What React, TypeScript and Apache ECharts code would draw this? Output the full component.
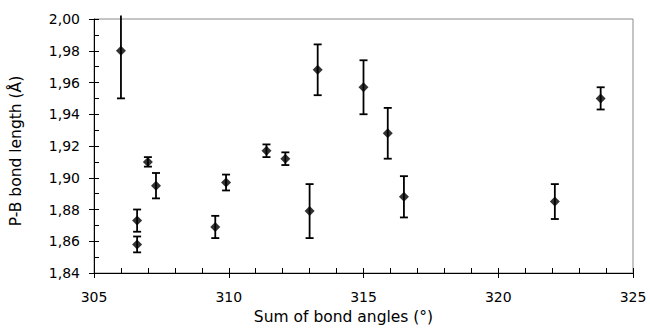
import React, { useEffect, useRef } from "react";
import * as echarts from "echarts";

const sumAngles = [306.0, 306.6, 306.6, 307.0, 307.3, 309.5, 309.9, 311.4, 312.1, 313.0, 313.3, 315.0, 315.9, 316.5, 322.1, 323.8];
const bondLength = [1.98, 1.873, 1.858, 1.91, 1.895, 1.869, 1.897, 1.917, 1.912, 1.879, 1.968, 1.957, 1.928, 1.888, 1.885, 1.95];
const bondError = [0.03, 0.007, 0.005, 0.003, 0.008, 0.007, 0.005, 0.004, 0.004, 0.017, 0.016, 0.017, 0.016, 0.013, 0.011, 0.007];

const xTicks = { min: 305, max: 325, major: 5, minor: 1 };
const yTicks = { min: 1.84, max: 2.0, major: 0.02, minor: 0.01 };

const FONT = "DejaVu Sans";

export default function App() {
  const ref = useRef<HTMLDivElement>(null);
  useEffect(() => {
    if (!ref.current) return;
    const chart = echarts.init(ref.current, undefined, { renderer: "svg" });
    const points = sumAngles.map((x, i) => [x, bondLength[i]]);
    const bars = sumAngles.map((x, i) => [x, bondLength[i] - bondError[i], bondLength[i] + bondError[i]]);
    const option: any = {
      animation: false,
      backgroundColor: "#ffffff",
      grid: {
        left: 91,
        right: 17,
        top: 19,
        bottom: 57,
        show: true,
        borderColor: "#8a8a8a",
        borderWidth: 1,
      },
      xAxis: [
        {
          type: "value",
          min: xTicks.min,
          max: xTicks.max,
          interval: xTicks.major,
          position: "bottom",
          name: "Sum of bond angles (°)",
          nameLocation: "middle",
          nameGap: 31,
          nameTextStyle: { fontFamily: FONT, fontSize: 15.5, color: "#000", padding: [0, 40, 0, 0] },
          axisLine: { show: true, onZero: false, lineStyle: { color: "#000", width: 1 } },
          axisTick: { show: true, inside: false, length: 5, lineStyle: { color: "#000", width: 1 } },
          axisLabel: { fontFamily: FONT, fontSize: 14, color: "#000", margin: 17 },
          splitLine: { show: false },
        },
        {
          type: "value",
          min: xTicks.min,
          max: xTicks.max,
          interval: xTicks.minor,
          position: "bottom",
          offset: 0,
          axisLine: { show: false, onZero: false },
          axisTick: { show: true, inside: true, length: 5, lineStyle: { color: "#000", width: 1 } },
          axisLabel: { show: false },
          splitLine: { show: false },
        },
      ],
      yAxis: [
        {
          type: "value",
          min: yTicks.min,
          max: yTicks.max,
          interval: yTicks.major,
          position: "left",
          name: "P-B bond length (Å)",
          nameLocation: "middle",
          nameGap: 70,
          nameTextStyle: { fontFamily: FONT, fontSize: 15.5, color: "#000", padding: [0, 10, 0, 0] },
          axisLine: { show: true, onZero: false, lineStyle: { color: "#000", width: 1 } },
          axisTick: { show: true, inside: false, length: 5, lineStyle: { color: "#000", width: 1 } },
          axisLabel: {
            fontFamily: FONT,
            fontSize: 14,
            color: "#000",
            margin: 14,
            formatter: (v: number) => v.toFixed(2).replace(".", ","),
          },
          splitLine: { show: false },
        },
        {
          type: "value",
          min: yTicks.min,
          max: yTicks.max,
          interval: yTicks.minor,
          position: "left",
          offset: 0,
          axisLine: { show: false, onZero: false },
          axisTick: { show: true, inside: true, length: 5, lineStyle: { color: "#000", width: 1 } },
          axisLabel: { show: false },
          splitLine: { show: false },
        },
      ],
      series: [
        {
          type: "custom",
          xAxisIndex: 0,
          yAxisIndex: 0,
          data: bars,
          clip: false,
          renderItem: (params: any, api: any) => {
            const x = api.value(0);
            const lo = api.coord([x, api.value(1)]);
            const hi = api.coord([x, api.value(2)]);
            const top = params.coordSys.y - 3.5;
            const clipped = hi[1] < top;
            const hiY = clipped ? top : hi[1];
            const cap = 4;
            const style = { stroke: "#000", lineWidth: 1.8 };
            const children: any[] = [
              { type: "line", shape: { x1: lo[0], y1: lo[1], x2: lo[0], y2: hiY }, style },
              { type: "line", shape: { x1: lo[0] - cap, y1: lo[1], x2: lo[0] + cap, y2: lo[1] }, style },
            ];
            if (!clipped) {
              children.push({ type: "line", shape: { x1: hi[0] - cap, y1: hi[1], x2: hi[0] + cap, y2: hi[1] }, style });
            }
            return { type: "group", children };
          },
          z: 2,
        },
        {
          type: "scatter",
          xAxisIndex: 0,
          yAxisIndex: 0,
          data: points,
          symbol: "diamond",
          symbolSize: 10,
          itemStyle: { color: "#000" },
          z: 3,
        },
      ],
    };
    chart.setOption(option);
    return () => chart.dispose();
  }, []);
  return (
    <div
      ref={ref}
      style={{ position: "fixed", left: 0, top: 0, width: 650, height: 330, background: "#fff" }}
    />
  );
}
